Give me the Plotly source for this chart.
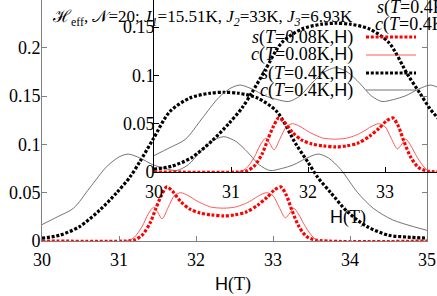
import plotly.graph_objects as go

W, HGT = 437, 296

# ---- data ----
H_s08 = [30, 31.1, 31.2, 31.3, 31.4, 31.48, 31.55, 31.62, 31.7, 31.8, 31.92, 32.05, 32.2, 32.36,
         32.5, 32.65, 32.8, 32.92, 33.02, 33.1, 33.17, 33.24, 33.33, 33.43, 33.55, 35]
s08 = [0, 0, 0.001, 0.006, 0.018, 0.034, 0.047, 0.056, 0.051, 0.041, 0.033, 0.029, 0.027, 0.026,
       0.027, 0.030, 0.037, 0.045, 0.053, 0.056, 0.048, 0.033, 0.016, 0.005, 0.001, 0]

H_c08 = [30, 31.1, 31.2, 31.3, 31.38, 31.45, 31.5, 31.56, 31.64, 31.72, 31.8, 31.9, 32.0, 32.1,
         32.2, 32.36, 32.5, 32.62, 32.72, 32.82, 32.92, 33.0, 33.08, 33.16, 33.22, 33.27, 33.33,
         33.42, 33.52, 33.6, 35]
c08 = [0, 0, 0.004, 0.015, 0.028, 0.035, 0.030, 0.023, 0.035, 0.047, 0.050, 0.047, 0.042, 0.038,
       0.035, 0.034, 0.035, 0.038, 0.042, 0.047, 0.050, 0.047, 0.035, 0.024, 0.029, 0.034, 0.028,
       0.015, 0.004, 0, 0]

H_s4 = [30, 30.23, 30.49, 30.75, 30.97, 31.14, 31.27, 31.44, 31.66, 31.92, 32.18, 32.36, 32.55,
        32.8, 33.05, 33.3, 33.45, 33.58, 33.75, 33.97, 34.22, 34.5, 34.75, 35]
s4 = [0.003, 0.006, 0.015, 0.032, 0.050, 0.066, 0.082, 0.105, 0.134, 0.148, 0.153, 0.154, 0.153,
      0.148, 0.134, 0.100, 0.082, 0.066, 0.050, 0.030, 0.015, 0.006, 0.004, 0.003]

H_c4 = [30, 30.2, 30.41, 30.62, 30.84, 31.0, 31.12, 31.27, 31.44, 31.6, 31.75, 31.9, 32.05, 32.2,
        32.36, 32.52, 32.67, 32.82, 32.96, 33.11, 33.27, 33.44, 33.59, 33.72, 33.88, 34.1, 34.3,
        34.55, 35]
c4 = [0.017, 0.025, 0.034, 0.055, 0.077, 0.087, 0.090, 0.086, 0.079, 0.075, 0.073, 0.079, 0.092,
      0.103, 0.108, 0.103, 0.092, 0.079, 0.073, 0.075, 0.079, 0.086, 0.090, 0.086, 0.074, 0.050,
      0.034, 0.022, 0.011]

x_ticks = [30, 31, 32, 33, 34, 35]
y_ticks = [0, 0.05, 0.1, 0.15, 0.2]
y_tick_text = ["0", "0.05", "0.1", "0.15", "0.2"]
inset_x_ticks = [30, 31, 32, 33]
inset_y_ticks = [0, 0.05, 0.1, 0.15]
inset_y_text = ["0", "0.05", "0.1", "0.15"]

series = [
    ("s08", H_s08, s08, dict(color="#ff0000", width=3.2, dash="3px,1.8px")),
    ("c08", H_c08, c08, dict(color="#ff3030", width=0.8)),
    ("s4", H_s4, s4, dict(color="#000000", width=3.2, dash="3px,1.8px")),
    ("c4", H_c4, c4, dict(color="#505050", width=0.8)),
]

SERIF = "Liberation Serif"

def px(x):
    return x / W

def py(y):
    return 1 - y / HGT

fig = go.Figure()
for ax in [("x", "y"), ("x2", "y2")]:
    for name, hx, hy, ln in series:
        fig.add_trace(go.Scatter(x=hx, y=hy, mode="lines", xaxis=ax[0], yaxis=ax[1],
                                 line=dict(shape="spline", smoothing=0.8, **ln),
                                 showlegend=False, hoverinfo="skip"))

tickfont = dict(family=SERIF, size=18, color="black")
common = dict(ticks="inside", ticklen=5, showgrid=False, zeroline=False,
              tickfont=tickfont, automargin=False, showline=True, linewidth=1)
fig.update_layout(
    width=W, height=HGT, margin=dict(l=0, r=0, t=0, b=0, autoexpand=False),
    paper_bgcolor="white", plot_bgcolor="rgba(0,0,0,0)",
    showlegend=False,
    xaxis=dict(domain=[px(42), px(427)], range=[30, 35], tickvals=x_ticks,
               tickcolor="#808080", linecolor="#808080", mirror=False,
               ticklabelstandoff=2, **common),
    yaxis=dict(domain=[py(241), 1], range=[0, 0.2495], tickvals=y_ticks,
               ticktext=y_tick_text, tickcolor="#808080", linecolor="#808080",
               mirror="ticks", ticklabelstandoff=-3, **common),
    xaxis2=dict(domain=[px(154), 1], range=[30, 30 + (437 - 154) / 77], anchor="y2",
                tickvals=inset_x_ticks, tickcolor="black", linecolor="black", mirror=False,
                ticklabelstandoff=3, **common),
    yaxis2=dict(domain=[py(172), 1], range=[0, 172 / 966], anchor="x2",
                tickvals=inset_y_ticks, ticktext=inset_y_text, tickcolor="black",
                linecolor="black", mirror=False, ticklabelstandoff=-5, **common),
)

def ann(text, x, y, xanchor="left", size=18):
    fig.add_annotation(text=text, x=px(x), y=py(y), xref="paper", yref="paper",
                       xanchor=xanchor, yanchor="middle", showarrow=False,
                       font=dict(family=SERIF, size=size, color="black"))

Hs = '<span style="font-family:Liberation Sans">H</span>'
ann("ℋ<sub>eff</sub>, 𝒩=20; <i>J</i><sub><i>1</i></sub>=15.51K, <i>J</i><sub><i>2</i></sub>=33K, "
    "<i>J</i><sub><i>3</i></sub>=6.93K", 50, 18, size=17)

legend_labels = [
    "<i>s</i>(<i>T</i>=0.08K," + Hs + ")",
    "<i>c</i>(<i>T</i>=0.08K," + Hs + ")",
    "<i>s</i>(<i>T</i>=0.4K," + Hs + ")",
    "<i>c</i>(<i>T</i>=0.4K," + Hs + ")",
]
legend_y = [37, 55, 73, 90]
for (name, hx, hy, ln), lab, yy in zip(series, legend_labels, legend_y):
    ann(lab, 355, yy, xanchor="right")
    fig.add_shape(type="line", xref="paper", yref="paper", x0=px(366), x1=px(416),
                  y0=py(yy), y1=py(yy), line=ln)

# inset key (mostly outside the canvas)
ann("<i>s</i>(<i>T</i>=0.4K," + Hs + ")", 375, 7)
ann("<i>c</i>(<i>T</i>=0.4K," + Hs + ")", 373, 25)

ann(Hs + "(T)", 233, 284, xanchor="center")
ann(Hs + "(T)", 348, 217, xanchor="center")

fig.write_html("out.html", config={"displayModeBar": False, "staticPlot": True},
               post_script="document.body.style.margin='0px';")
